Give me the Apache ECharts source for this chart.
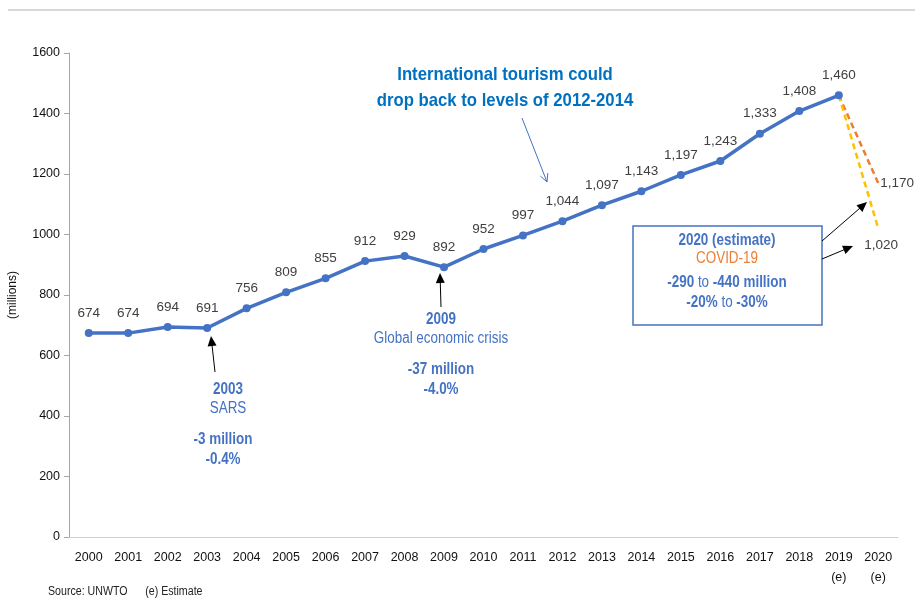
<!DOCTYPE html>
<html>
<head>
<meta charset="utf-8">
<script src="https://cdn.jsdelivr.net/npm/echarts@6/dist/echarts.min.js"></script>
<style>
  html, body { margin: 0; padding: 0; background: #fff; }
  #chart { width: 915px; height: 601px; }
</style>
</head>
<body>
<div id="chart"></div>
<script>
// international tourist arrivals (millions)
const years = ['2000','2001','2002','2003','2004','2005','2006','2007','2008','2009','2010',
  '2011','2012','2013','2014','2015','2016','2017','2018','2019','2020'];
const arrivals = [674, 674, 694, 691, 756, 809, 855, 912, 929, 892, 952,
  997, 1044, 1097, 1143, 1197, 1243, 1333, 1408, 1460, null];
const estimateYears = ['2019', '2020'];
// 2020 scenarios, starting from the 2019 value
const scenarioHigh = [1460, 1170];
const scenarioLow = [1460, 1020];
const yTicks = { min: 0, max: 1600, interval: 200 };

const SANS = '"Liberation Sans", Arial, sans-serif';
const BLUE = '#4472C4';
const SQ = 0.84; // squeeze for the narrow annotation font

const fmt = v => v.toLocaleString('en-US');
function pad(arr) { // put the 2-point scenario at the end of the year axis
  return years.map((y, i) => i < years.length - arr.length ? null : arr[i - (years.length - arr.length)]);
}

function arrow(x1, y1, x2, y2, color, w, open) {
  const a = Math.atan2(y2 - y1, x2 - x1), L = open ? 8 : 10, W = open ? 4 : 4.5;
  const p1 = [x2 - L * Math.cos(a) + W * Math.sin(a), y2 - L * Math.sin(a) - W * Math.cos(a)];
  const p2 = [x2 - L * Math.cos(a) - W * Math.sin(a), y2 - L * Math.sin(a) + W * Math.cos(a)];
  const end = open ? [x2, y2] : [x2 - L * 0.8 * Math.cos(a), y2 - L * 0.8 * Math.sin(a)];
  return {
    type: 'group', children: [
      { type: 'line', shape: { x1, y1, x2: end[0], y2: end[1] }, style: { stroke: color, lineWidth: w } },
      open
        ? { type: 'polyline', shape: { points: [p1, [x2, y2], p2] }, style: { stroke: color, lineWidth: w, fill: null } }
        : { type: 'polygon', shape: { points: [p1, [x2, y2], p2] }, style: { fill: color } },
    ],
  };
}
function txt(x, y, text, font, fill, rich, sq) {
  return { type: 'text', x, y, scaleX: sq || SQ,
    style: { x: 0, y: 0, text, font, fill, align: 'center', verticalAlign: 'middle', rich } };
}
const bn = {
  b: { font: 'bold 16px ' + SANS, fill: BLUE }, n: { font: '16px ' + SANS, fill: BLUE },
};

const chart = echarts.init(document.getElementById('chart'));
chart.setOption({
  animation: false,
  grid: { left: 69, right: 17, top: 53, bottom: 64, outerBoundsMode: 'none' },
  xAxis: {
    type: 'category', data: years,
    axisLine: { lineStyle: { color: '#d0d0d0', width: 1 } },
    axisTick: { show: false },
    axisLabel: {
      color: '#111', fontFamily: SANS, fontSize: 12.5, lineHeight: 20, margin: 11,
      formatter: v => estimateYears.includes(v) ? v + '\n(e)' : v,
    },
  },
  yAxis: {
    type: 'value', min: yTicks.min, max: yTicks.max, interval: yTicks.interval,
    name: '(millions)', nameLocation: 'middle', nameGap: 50, nameRotate: 90,
    nameTextStyle: { color: '#111', fontFamily: SANS, fontSize: 12 },
    axisLine: { show: true, lineStyle: { color: '#a6a6a6' } },
    axisTick: { show: true, length: 5, lineStyle: { color: '#a6a6a6' } },
    splitLine: { show: false },
    axisLabel: { color: '#111', fontFamily: SANS, fontSize: 12.5, margin: 9, formatter: v => String(v) },
  },
  series: [
    {
      type: 'line', data: arrivals, z: 3,
      lineStyle: { color: BLUE, width: 3.5 }, itemStyle: { color: BLUE },
      symbol: 'circle', symbolSize: 8,
      label: {
        show: true, position: 'top', distance: 9, color: '#404040',
        fontFamily: SANS, fontSize: 13.5, formatter: p => fmt(p.value),
      },
    },
    {
      type: 'line', data: pad(scenarioHigh), z: 2, symbol: 'none', connectNulls: false,
      lineStyle: { color: '#ED7D31', width: 2.5, type: [6, 4] },
      endLabel: { show: true, color: '#404040', fontFamily: SANS, fontSize: 13.5, distance: 2,
        formatter: p => fmt(p.value) },
    },
    {
      type: 'line', data: pad(scenarioLow), z: 2, symbol: 'none', connectNulls: false,
      lineStyle: { color: '#FFC000', width: 2.5, type: [6, 4] },
      endLabel: { show: true, color: '#404040', fontFamily: SANS, fontSize: 13.5,
        offset: [-22, 17], formatter: p => fmt(p.value) },
    },
  ],
  graphic: [
    { type: 'rect', shape: { x: 8, y: 9, width: 907, height: 2 }, style: { fill: '#d9d9d9' } },
    txt(505, 75, 'International tourism could', 'bold 19px ' + SANS, '#0070C0', null, 0.88),
    txt(505, 101, 'drop back to levels of 2012-2014', 'bold 19px ' + SANS, '#0070C0', null, 0.88),
    arrow(522, 118, 547, 182, BLUE, 1, true),

    arrow(215, 372, 211, 336, '#000', 1),
    txt(228, 390, '2003', 'bold 16px ' + SANS, BLUE),
    txt(228, 409, 'SARS', '16px ' + SANS, BLUE),
    txt(223, 440, '-3 million', 'bold 16px ' + SANS, BLUE),
    txt(223, 460, '-0.4%', 'bold 16px ' + SANS, BLUE),

    arrow(441, 307, 440, 273, '#000', 1),
    txt(441, 320, '2009', 'bold 16px ' + SANS, BLUE),
    txt(441, 339, 'Global economic crisis', '16px ' + SANS, BLUE),
    txt(441, 370, '-37 million', 'bold 16px ' + SANS, BLUE),
    txt(441, 390, '-4.0%', 'bold 16px ' + SANS, BLUE),

    { type: 'rect', shape: { x: 633, y: 226, width: 189, height: 99 },
      style: { fill: '#fff', stroke: BLUE, lineWidth: 1.5 } },
    txt(727, 241, '2020 (estimate)', 'bold 16px ' + SANS, BLUE),
    txt(727, 259, 'COVID-19', '16px ' + SANS, '#ED7D31'),
    txt(727, 283, '{b|-290} {n|to} {b|-440 million}', '16px ' + SANS, BLUE, bn),
    txt(727, 303, '{b|-20%} {n|to} {b|-30%}', '16px ' + SANS, BLUE, bn),
    arrow(822, 241, 867, 202, '#000', 1),
    arrow(822, 259, 853, 246, '#000', 1),

    { type: 'text', x: 48, y: 592, scaleX: 0.85, style: { x: 0, y: 0, text: 'Source: UNWTO      (e) Estimate',
      font: '12.5px ' + SANS, fill: '#222', verticalAlign: 'middle' } },
  ],
});
</script>
</body>
</html>
